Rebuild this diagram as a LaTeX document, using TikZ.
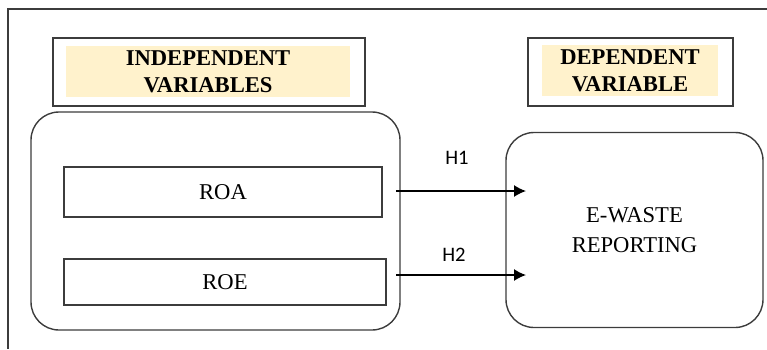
\documentclass[tikz,border=0pt]{standalone}
\usepackage{fontspec}
\setmainfont{Liberation Serif}
\newfontfamily\hypfont{Carlito}
\usetikzlibrary{arrows.meta}
\definecolor{headfill}{HTML}{FFF2CC}
\definecolor{linegray}{HTML}{3C3C3C}
\tikzset{
  varbox/.style={draw=linegray, line width=0.7pt, inner sep=0pt},
  headtext/.style={fill=headfill, inner sep=0pt, align=center,
    font=\fontsize{11.3}{13.5}\selectfont\bfseries},
  grpbox/.style={varbox, rounded corners=14pt},
  hyparrow/.style={draw=black, line width=0.7pt, -{Latex[length=6pt,width=6pt]}},
}
\begin{document}
\begin{tikzpicture}[x=0.5pt,y=-0.5pt]
  \useasboundingbox (0,0) rectangle (767,349);
  % frame
  \draw[linegray, line width=0.7pt] (767,9) -- (8,9) -- (8,349);
  % headers
  \node[varbox, minimum width=156pt, minimum height=34pt] (indhead) at (209,72) {};
  \node[headtext, minimum width=142pt, minimum height=25.5pt] (indtext) at (208,71.5) {INDEPENDENT\\VARIABLES};
  \node[varbox, minimum width=102.5pt, minimum height=34pt] (dephead) at (630.5,72) {};
  \node[headtext, minimum width=88pt, minimum height=25.5pt] (deptext) at (630,70.5) {DEPENDENT\\VARIABLE};
  % groups
  \node[grpbox, minimum width=184.5pt, minimum height=109pt] (indgrp) at (215.5,221) {};
  \node[grpbox, minimum width=128.5pt, minimum height=97.5pt, align=center,
    font=\fontsize{11.3}{15}\selectfont] (ewaste) at (634.5,230) {E-WASTE\\REPORTING};
  \node[varbox, minimum width=159pt, minimum height=25pt, font=\fontsize{11.3}{13.5}\selectfont] (roa) at (223,192) {ROA};
  \node[varbox, minimum width=161pt, minimum height=23pt, font=\fontsize{11.3}{13.5}\selectfont] (roe) at (225,282) {ROE};
  % hypotheses
  \coordinate (h1s) at (396,191);
  \coordinate (h1e) at (526,191);
  \coordinate (h2s) at (396,275);
  \coordinate (h2e) at (526,275);
  \draw[hyparrow] (h1s) -- (h1e);
  \draw[hyparrow] (h2s) -- (h2e);
  \node[font=\hypfont\fontsize{10.3}{12}\selectfont] (h1) at (457,158) {H1};
  \node[font=\hypfont\fontsize{10.3}{12}\selectfont] (h2) at (454,255) {H2};
\end{tikzpicture}
\end{document}
